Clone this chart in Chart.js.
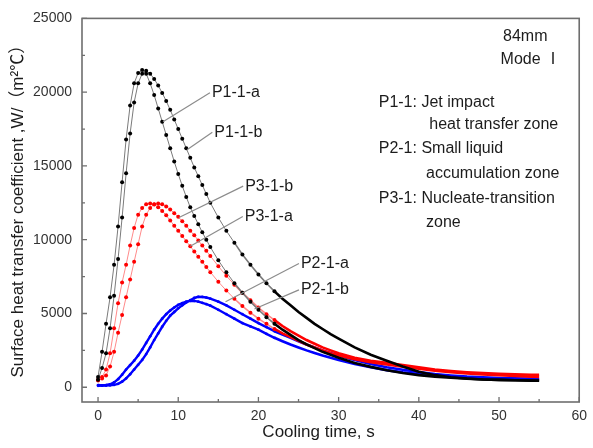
<!DOCTYPE html>
<html>
<head>
<meta charset="utf-8">
<script src="https://cdn.jsdelivr.net/npm/chart.js@4.4.1/dist/chart.umd.min.js"></script>
<style>
  html, body { margin: 0; padding: 0; background: #fff; }
  #grafico { display: block; }
</style>
</head>
<body>
<canvas id="grafico" width="593" height="448"></canvas>
<script>
// cooling time, s
const tempos = [
  0, 0.5, 1, 1.5, 2, 2.5, 3, 3.5, 4, 4.5, 5, 5.5, 6, 6.5, 7, 7.5, 8, 8.5, 9, 9.5,
  10, 10.5, 11, 11.5, 12, 12.5, 13, 13.5, 14,
  15, 16, 17, 18, 19, 20, 21, 22, 23, 24, 25, 26, 27, 28, 29, 30,
  32, 34, 36, 38, 40, 42, 44, 46, 48, 50, 52, 54, 55
];

// heat transfer coefficient, W/(m2 C)
const p11a = [
  700, 2400, 4300, 6100, 8300, 10900, 13900, 16800, 19100, 20600, 21300, 21500, 21250, 20600, 19800, 18900, 18000, 17100, 16200, 15300,
  14450, 13650, 12900, 12200, 11600, 11050, 10500, 10000, 9500,
  8600, 7800, 7050, 6400, 5800, 5250, 4750, 4300, 3900, 3550, 3200, 2900, 2650, 2400, 2200, 2000,
  1650, 1380, 1150, 960, 820, 720, 640, 580, 530, 500, 470, 450, 440
];
const p11b = [
  500, 1300, 2300, 4000, 6200, 8700, 11500, 14500, 17200, 19300, 20600, 21250, 21450, 21250, 20900, 20450, 19950, 19400, 18800, 18150,
  17500, 16850, 16200, 15550, 14900, 14300, 13700, 13100, 12500,
  11500, 10600, 9800, 9000, 8300, 7650, 7050, 6500, 6000, 5550, 5100, 4700, 4300, 3950, 3600, 3300,
  2700, 2200, 1800, 1400, 1050, 820, 680, 590, 530, 500, 470, 460, 460
];
const p31a = [
  450, 700, 1200, 2300, 4000, 5700, 7100, 8300, 9600, 10800, 11700, 12150, 12400, 12460, 12380, 12200, 11950, 11650, 11300, 10950,
  10600, 10250, 9900, 9550, 9200, 8850, 8500, 8150, 7800,
  7150, 6550, 6000, 5500, 5050, 4650, 4300, 3950, 3650, 3400, 3150, 2900, 2700, 2500, 2300, 2150,
  1900, 1700, 1550, 1400, 1250, 1120, 1020, 940, 870, 810, 760, 720, 700
];
const p31b = [
  500, 600, 800, 1400, 2400, 3700, 4900, 6100, 7300, 8500, 9700, 10900, 11700, 12150, 12400, 12460, 12400, 12250, 12050, 11800,
  11550, 11250, 10950, 10600, 10300, 9950, 9600, 9250, 8900,
  8200, 7550, 6950, 6400, 5900, 5400, 4950, 4550, 4150, 3800, 3500, 3200, 2950, 2700, 2500, 2300,
  2000, 1800, 1650, 1500, 1350, 1200, 1100, 1020, 960, 910, 880, 850, 850
];
const p21a = [
  150, 120, 120, 130, 160, 230, 380, 600, 880, 1200, 1520, 1850, 2250, 2700, 3200, 3650, 4100, 4500, 4850, 5100,
  5350, 5550, 5750, 5900, 6050, 6130, 6120, 6080, 6000,
  5800, 5550, 5250, 4950, 4650, 4350, 4080, 3800, 3570, 3350, 3120, 2900, 2700, 2500, 2320, 2150,
  1850, 1570, 1350, 1180, 1030, 900, 800, 720, 670, 630, 600, 580, 580
];
const p21b = [
  100, 120, 150, 200, 330, 550, 850, 1200, 1500, 1800, 2150, 2550, 3000, 3450, 3900, 4300, 4650, 4950, 5200, 5400,
  5580, 5700, 5800, 5860, 5850, 5800, 5720, 5630, 5530,
  5250, 4950, 4650, 4350, 4120, 3900, 3620, 3350, 3120, 2900, 2700, 2500, 2320, 2150, 2000, 1850,
  1580, 1350, 1160, 1010, 890, 790, 710, 650, 610, 580, 560, 550, 550
];

// axis ticks
const ticksX = [0, 10, 20, 30, 40, 50, 60];
const ticksY = [0, 5000, 10000, 15000, 20000, 25000];

const fonte = '"Liberation Sans", Arial, "Noto Sans CJK SC", sans-serif';
const corTexto = "#1c1c1c";

// curve labels: text position and where the leader line ends (data units)
const chamadas = [
  { texto: "P1-1-a", em: [14.2, 19960], ponta: [8.1, 18000] },
  { texto: "P1-1-b", em: [14.5, 17290], ponta: [11.1, 16100] },
  { texto: "P3-1-b", em: [18.35, 13630], ponta: [10.1, 11500] },
  { texto: "P3-1-a", em: [18.3, 11570], ponta: [11.5, 9550] },
  { texto: "P2-1-a", em: [25.3, 8390], ponta: [15.9, 5800] },
  { texto: "P2-1-b", em: [25.3, 6600], ponta: [19.5, 5300] }
];

// notes at the top right
const notas = [
  { texto: "84mm", em: [50.5, 23790] },
  { texto: "Mode \u2160", em: [50.2, 22180] },
  { texto: "P1-1: Jet impact", em: [35.0, 19290] },
  { texto: "heat transfer zone", em: [41.3, 17830] },
  { texto: "P2-1: Small liquid", em: [35.0, 16160] },
  { texto: "accumulation zone", em: [40.9, 14480] },
  { texto: "P3-1: Nucleate-transition", em: [35.0, 12800] },
  { texto: "zone", em: [40.9, 11170] }
];

function serie(valores) {
  return tempos.map((t, i) => ({ x: t, y: valores[i] }));
}

// after ~22 s the markers sit so close they read as a thick line
function conjunto(rotulo, valores, cor, corLinha, raio, larguraInicio) {
  return {
    label: rotulo,
    data: serie(valores),
    showLine: true,
    borderColor: cor,
    backgroundColor: cor,
    pointRadius: c => (c.raw && c.raw.x <= 22 ? raio : 0),
    pointHoverRadius: 0,
    pointBorderWidth: 0,
    segment: {
      borderColor: c => (c.p0.parsed.x >= 22 ? cor : corLinha),
      borderWidth: c => {
        const t = c.p0.parsed.x;
        if (t >= 22) return 2.6;
        if (t >= 17) return Math.max(larguraInicio, 1.6);
        return larguraInicio;
      }
    }
  };
}

const enfeites = {
  id: "enfeites",
  afterDraw(chart) {
    const { ctx, chartArea: a, scales } = chart;
    const x = scales.x;
    const y = scales.y;
    ctx.save();

    // leader lines and curve labels
    ctx.strokeStyle = "#8c8c8c";
    ctx.lineWidth = 1.2;
    ctx.font = `16px ${fonte}`;
    ctx.fillStyle = corTexto;
    ctx.textBaseline = "middle";
    ctx.textAlign = "left";
    chamadas.forEach(c => {
      const tx = x.getPixelForValue(c.em[0]);
      const ty = y.getPixelForValue(c.em[1]);
      ctx.beginPath();
      ctx.moveTo(tx - 2, ty);
      ctx.lineTo(x.getPixelForValue(c.ponta[0]), y.getPixelForValue(c.ponta[1]));
      ctx.stroke();
      ctx.fillText(c.texto, tx, ty);
    });

    notas.forEach(n => {
      ctx.fillText(n.texto, x.getPixelForValue(n.em[0]), y.getPixelForValue(n.em[1]));
    });

    // frame
    ctx.strokeStyle = "#6e6e6e";
    ctx.lineWidth = 1.6;
    ctx.strokeRect(a.left, a.top, a.right - a.left, a.bottom - a.top);

    // inward ticks, major and minor
    ctx.lineWidth = 1.3;
    ctx.beginPath();
    for (let v = 0; v <= 60; v += 5) {
      const px = x.getPixelForValue(v);
      ctx.moveTo(px, a.bottom);
      ctx.lineTo(px, a.bottom - (v % 10 === 0 ? 5 : 3));
    }
    for (let v = 0; v <= 25000; v += 2500) {
      const py = y.getPixelForValue(v);
      ctx.moveTo(a.left, py);
      ctx.lineTo(a.left + (v % 5000 === 0 ? 5 : 3), py);
    }
    ctx.stroke();

    // axis titles
    ctx.fillStyle = corTexto;
    ctx.font = `17px ${fonte}`;
    ctx.textAlign = "center";
    ctx.textBaseline = "middle";
    ctx.fillText("Cooling time, s", x.getPixelForValue(27.5), 432);

    ctx.translate(18, (a.top + a.bottom) / 2 - 3);
    ctx.rotate(-Math.PI / 2);
    ctx.fillText("Surface heat transfer coefficient ,W/\uFF08m\u00B2\u2103\uFF09", 0, 0);

    ctx.restore();
  }
};

new Chart(document.getElementById("grafico"), {
  type: "scatter",
  data: {
    datasets: [
      conjunto("P1-1-a", p11a, "#000000", "#7a7a7a", 2, 1),
      conjunto("P1-1-b", p11b, "#000000", "#7a7a7a", 2, 1),
      conjunto("P3-1-a", p31a, "#ff0000", "#ff8a8a", 2, 1),
      conjunto("P3-1-b", p31b, "#ff0000", "#ff8a8a", 2, 1),
      conjunto("P2-1-a", p21a, "#0000ff", "#0000ff", 1.4, 2.4),
      conjunto("P2-1-b", p21b, "#0000ff", "#0000ff", 1.4, 2.4)
    ]
  },
  options: {
    responsive: false,
    animation: false,
    events: [],
    layout: { padding: { top: 15, right: 8, left: 0, bottom: 0 } },
    plugins: {
      legend: { display: false },
      tooltip: { enabled: false }
    },
    scales: {
      x: {
        type: "linear",
        min: -2,
        max: 60,
        afterFit: s => { s.height = 46; },
        afterBuildTicks: s => { s.ticks = ticksX.map(v => ({ value: v })); },
        grid: { display: false, drawTicks: false },
        border: { display: false },
        ticks: {
          font: { size: 14, family: fonte },
          color: "#333",
          padding: 6,
          maxRotation: 0,
          callback: v => String(v)
        }
      },
      y: {
        type: "linear",
        min: -1000,
        max: 25000,
        afterFit: s => { s.width = 82; },
        afterBuildTicks: s => { s.ticks = ticksY.map(v => ({ value: v })); },
        grid: { display: false, drawTicks: false },
        border: { display: false },
        ticks: {
          font: { size: 14, family: fonte },
          color: "#333",
          padding: 10,
          callback: v => String(v)
        }
      }
    }
  },
  plugins: [enfeites]
});
</script>
</body>
</html>
